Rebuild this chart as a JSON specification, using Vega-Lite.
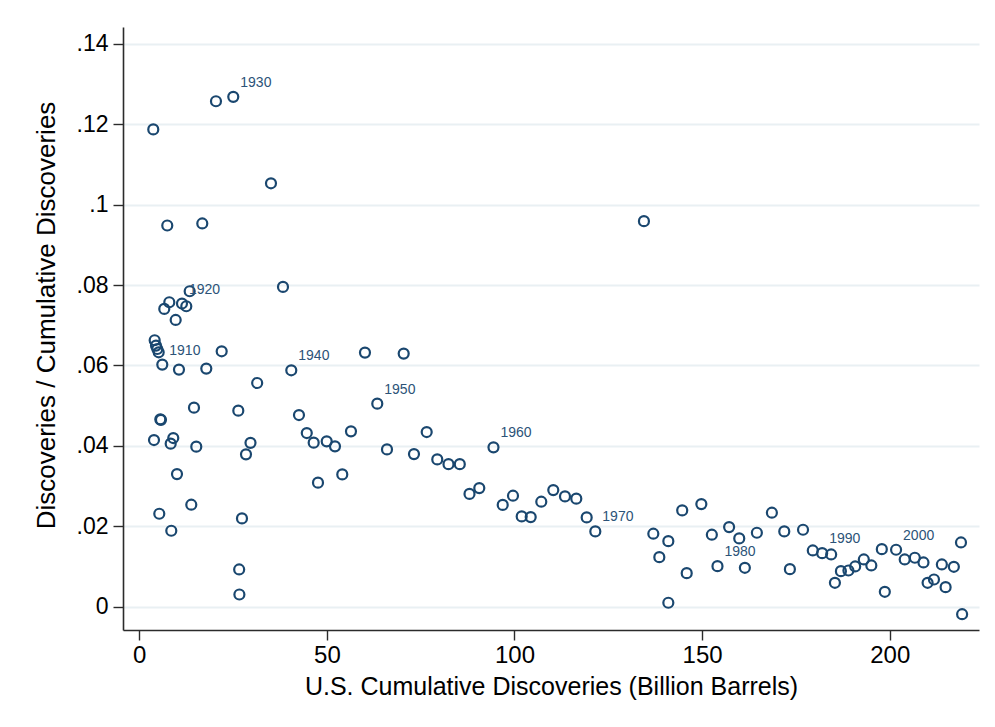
{
  "$schema": "https://vega.github.io/schema/vega-lite/v6.json",
  "autosize": {"type": "none"},
  "width": 856,
  "height": 603,
  "padding": {"left": 123, "top": 27, "right": 16, "bottom": 97},
  "background": "white",
  "config": {
    "view": {"stroke": null},
    "font": "Liberation Sans"
  },
  "data": {
    "values": [
      {"year": 1901, "x": 3.73, "y": 0.1187},
      {"year": 1902, "x": 3.92, "y": 0.04146},
      {"year": 1903, "x": 4.10, "y": 0.06627},
      {"year": 1904, "x": 4.45, "y": 0.06495},
      {"year": 1905, "x": 4.80, "y": 0.0641},
      {"year": 1906, "x": 5.17, "y": 0.06328},
      {"year": 1907, "x": 5.33, "y": 0.02314},
      {"year": 1908, "x": 5.60, "y": 0.04661},
      {"year": 1909, "x": 5.78, "y": 0.04648},
      {"year": 1910, "x": 6.13, "y": 0.06022, "label": "1910"},
      {"year": 1911, "x": 6.66, "y": 0.07406},
      {"year": 1912, "x": 7.46, "y": 0.09481},
      {"year": 1913, "x": 8.00, "y": 0.07572},
      {"year": 1914, "x": 8.37, "y": 0.04056},
      {"year": 1915, "x": 8.53, "y": 0.01891},
      {"year": 1916, "x": 9.06, "y": 0.04196},
      {"year": 1917, "x": 9.70, "y": 0.07132},
      {"year": 1918, "x": 10.05, "y": 0.033},
      {"year": 1919, "x": 10.58, "y": 0.05898},
      {"year": 1920, "x": 11.38, "y": 0.0754, "label": "1920"},
      {"year": 1921, "x": 12.53, "y": 0.07473},
      {"year": 1922, "x": 13.43, "y": 0.07846},
      {"year": 1923, "x": 13.86, "y": 0.02538},
      {"year": 1924, "x": 14.58, "y": 0.04952},
      {"year": 1925, "x": 15.19, "y": 0.03981},
      {"year": 1926, "x": 16.79, "y": 0.09531},
      {"year": 1927, "x": 17.86, "y": 0.05922},
      {"year": 1928, "x": 20.44, "y": 0.1257},
      {"year": 1929, "x": 21.96, "y": 0.06353},
      {"year": 1930, "x": 25.05, "y": 0.1268, "label": "1930"},
      {"year": 1931, "x": 26.39, "y": 0.04877},
      {"year": 1932, "x": 26.62, "y": 0.00928},
      {"year": 1933, "x": 26.68, "y": 0.00306},
      {"year": 1934, "x": 27.37, "y": 0.02197},
      {"year": 1935, "x": 28.44, "y": 0.0379},
      {"year": 1936, "x": 29.64, "y": 0.04076},
      {"year": 1937, "x": 31.42, "y": 0.05564},
      {"year": 1938, "x": 35.10, "y": 0.1053},
      {"year": 1939, "x": 38.30, "y": 0.07953},
      {"year": 1940, "x": 40.51, "y": 0.0588, "label": "1940"},
      {"year": 1941, "x": 42.56, "y": 0.04768},
      {"year": 1942, "x": 44.64, "y": 0.0432},
      {"year": 1943, "x": 46.48, "y": 0.04081},
      {"year": 1944, "x": 47.63, "y": 0.03086},
      {"year": 1945, "x": 49.95, "y": 0.04113},
      {"year": 1946, "x": 52.16, "y": 0.03989},
      {"year": 1947, "x": 54.10, "y": 0.03292},
      {"year": 1948, "x": 56.42, "y": 0.04362},
      {"year": 1949, "x": 60.15, "y": 0.06321},
      {"year": 1950, "x": 63.43, "y": 0.05051, "label": "1950"},
      {"year": 1951, "x": 66.02, "y": 0.03914},
      {"year": 1952, "x": 70.47, "y": 0.06296},
      {"year": 1953, "x": 73.21, "y": 0.03797},
      {"year": 1954, "x": 76.60, "y": 0.04345},
      {"year": 1955, "x": 79.42, "y": 0.03665},
      {"year": 1956, "x": 82.41, "y": 0.03546},
      {"year": 1957, "x": 85.42, "y": 0.03546},
      {"year": 1958, "x": 88.01, "y": 0.02807},
      {"year": 1959, "x": 90.62, "y": 0.02951},
      {"year": 1960, "x": 94.40, "y": 0.03964, "label": "1960"},
      {"year": 1961, "x": 96.86, "y": 0.02533},
      {"year": 1962, "x": 99.60, "y": 0.02762},
      {"year": 1963, "x": 101.92, "y": 0.02247},
      {"year": 1964, "x": 104.32, "y": 0.0223},
      {"year": 1965, "x": 107.14, "y": 0.02613},
      {"year": 1966, "x": 110.34, "y": 0.02902},
      {"year": 1967, "x": 113.46, "y": 0.02745},
      {"year": 1968, "x": 116.47, "y": 0.02688},
      {"year": 1969, "x": 119.24, "y": 0.02222},
      {"year": 1970, "x": 121.54, "y": 0.01874, "label": "1970"},
      {"year": 1971, "x": 134.5, "y": 0.09588},
      {"year": 1972, "x": 137.0, "y": 0.01817},
      {"year": 1973, "x": 138.6, "y": 0.01234},
      {"year": 1974, "x": 141.0, "y": 0.001},
      {"year": 1975, "x": 141.0, "y": 0.01632},
      {"year": 1976, "x": 144.7, "y": 0.02396},
      {"year": 1977, "x": 145.9, "y": 0.00836},
      {"year": 1978, "x": 149.8, "y": 0.02553},
      {"year": 1979, "x": 152.6, "y": 0.01792},
      {"year": 1980, "x": 154.1, "y": 0.0101, "label": "1980"},
      {"year": 1981, "x": 157.2, "y": 0.01981},
      {"year": 1982, "x": 159.9, "y": 0.017},
      {"year": 1983, "x": 161.4, "y": 0.0097},
      {"year": 1984, "x": 164.6, "y": 0.01841},
      {"year": 1985, "x": 168.6, "y": 0.02339},
      {"year": 1986, "x": 171.9, "y": 0.01874},
      {"year": 1987, "x": 173.4, "y": 0.00936},
      {"year": 1988, "x": 176.9, "y": 0.01916},
      {"year": 1989, "x": 179.5, "y": 0.01401},
      {"year": 1990, "x": 182.0, "y": 0.01334, "label": "1990"},
      {"year": 1991, "x": 184.4, "y": 0.01301},
      {"year": 1992, "x": 185.4, "y": 0.00597},
      {"year": 1993, "x": 187.0, "y": 0.00886},
      {"year": 1994, "x": 189.0, "y": 0.00903},
      {"year": 1995, "x": 190.8, "y": 0.01003},
      {"year": 1996, "x": 193.1, "y": 0.01177},
      {"year": 1997, "x": 195.1, "y": 0.01028},
      {"year": 1998, "x": 197.9, "y": 0.01433},
      {"year": 1999, "x": 198.7, "y": 0.00373},
      {"year": 2000, "x": 201.7, "y": 0.01418, "label": "2000"},
      {"year": 2001, "x": 204.0, "y": 0.01177},
      {"year": 2002, "x": 206.7, "y": 0.01219},
      {"year": 2003, "x": 209.0, "y": 0.01102},
      {"year": 2004, "x": 210.1, "y": 0.00597},
      {"year": 2005, "x": 211.8, "y": 0.00679},
      {"year": 2006, "x": 213.9, "y": 0.01053},
      {"year": 2007, "x": 214.9, "y": 0.00488},
      {"year": 2008, "x": 217.1, "y": 0.00995},
      {"year": 2009, "x": 219.0, "y": 0.016},
      {"year": 2010, "x": 219.3, "y": -0.00184}
    ]
  },
  "encoding": {
    "x": {
      "field": "x",
      "type": "quantitative",
      "scale": {"domain": [-4.34, 223.8], "nice": false, "zero": false},
      "axis": {
        "title": "U.S. Cumulative Discoveries (Billion Barrels)",
        "values": [0, 50, 100, 150, 200],
        "grid": false,
        "domainColor": "#2b2b2b",
        "domainWidth": 1.6,
        "tickColor": "#2b2b2b",
        "tickWidth": 1.4,
        "tickSize": 10,
        "labelFontSize": 24,
        "labelColor": "#000000",
        "labelPadding": 3,
        "labelFont": "Liberation Sans",
        "titleFont": "Liberation Sans",
        "titleFontSize": 25,
        "titleFontWeight": "normal",
        "titleColor": "#000000",
        "titleBaseline": "alphabetic",
        "titleY": 64
      }
    },
    "y": {
      "field": "y",
      "type": "quantitative",
      "scale": {"domain": [-0.00577, 0.14416], "nice": false, "zero": false},
      "axis": {
        "title": "Discoveries / Cumulative Discoveries",
        "values": [0, 0.02, 0.04, 0.06, 0.08, 0.1, 0.12, 0.14],
        "labelExpr": "datum.value == 0 ? '0' : replace(format(datum.value, '.2~f'), '0.', '.')",
        "grid": true,
        "gridColor": "#e9f0f3",
        "gridWidth": 2,
        "domainColor": "#2b2b2b",
        "domainWidth": 1.6,
        "tickColor": "#2b2b2b",
        "tickWidth": 1.4,
        "tickSize": 10,
        "labelFontSize": 23,
        "labelColor": "#000000",
        "labelPadding": 5,
        "labelFont": "Liberation Sans",
        "titleFont": "Liberation Sans",
        "titleFontSize": 26,
        "titleFontWeight": "normal",
        "titleColor": "#000000",
        "titleAngle": -90,
        "titleAlign": "center",
        "titleBaseline": "middle",
        "titleX": -77,
        "titleY": 288
      }
    }
  },
  "layer": [
    {
      "mark": {"type": "point", "shape": "circle", "filled": false, "stroke": "#1a476f", "strokeWidth": 2.2, "size": 100, "opacity": 1}
    },
    {
      "transform": [{"filter": "isValid(datum.label)"}],
      "mark": {"type": "text", "align": "left", "baseline": "middle", "dx": 7, "dy": -14, "fontSize": 14, "color": "#2c5378", "font": "Liberation Sans"},
      "encoding": {"text": {"field": "label", "type": "nominal"}}
    }
  ]
}
